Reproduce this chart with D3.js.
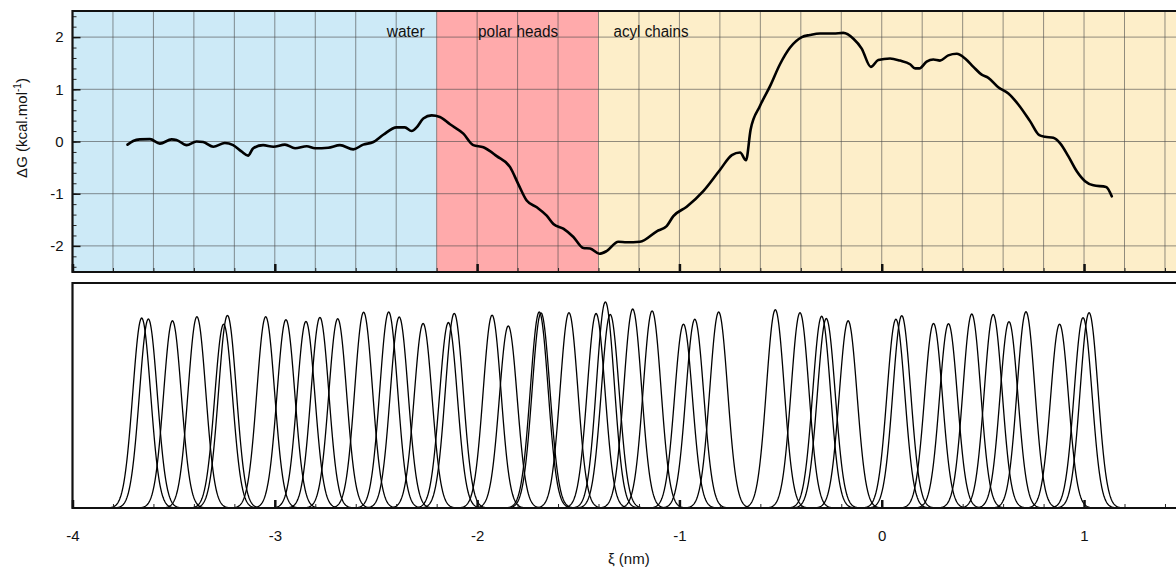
<!DOCTYPE html>
<html>
<head>
<meta charset="utf-8">
<script src="https://cdn.jsdelivr.net/npm/d3@7"></script>
<style>
  html, body { margin: 0; padding: 0; background: #fff; }
  svg { display: block; font-family: "Liberation Sans", Arial, Helvetica, sans-serif; }
</style>
</head>
<body>
<svg id="chart" width="1176" height="568"></svg>
<script>
// ---- data ----
const regionNames = ["water", "polar heads", "acyl chains"];
const regionStart = [-4.0, -2.2, -1.4];
const regionEnd = [-2.2, -1.4, 1.5];
const regionColors = ["#cdeaf7", "#ffaaab", "#fdeec9"];

const profileXi = [-3.728,-3.700,-3.667,-3.617,-3.568,-3.510,-3.486,-3.436,-3.387,-3.354,-3.304,-3.247,-3.206,-3.165,-3.132,-3.107,-3.058,-3.007,-2.950,-2.900,-2.842,-2.801,-2.736,-2.678,-2.612,-2.563,-2.513,-2.464,-2.398,-2.357,-2.324,-2.299,-2.266,-2.225,-2.184,-2.134,-2.068,-2.019,-1.969,-1.903,-1.837,-1.796,-1.755,-1.705,-1.656,-1.623,-1.574,-1.524,-1.475,-1.442,-1.396,-1.360,-1.302,-1.261,-1.195,-1.112,-1.063,-1.030,-0.964,-0.882,-0.799,-0.741,-0.700,-0.671,-0.648,-0.602,-0.552,-0.503,-0.453,-0.395,-0.355,-0.305,-0.239,-0.190,-0.140,-0.099,-0.054,-0.017,0.041,0.090,0.140,0.165,0.186,0.222,0.255,0.288,0.329,0.371,0.412,0.453,0.494,0.527,0.576,0.626,0.675,0.733,0.779,0.807,0.848,0.881,0.922,0.964,1.005,1.046,1.109,1.137];
const profileDG = [-0.06,0.01,0.04,0.045,-0.04,0.04,0.03,-0.07,0.00,-0.01,-0.10,-0.03,-0.07,-0.19,-0.27,-0.13,-0.07,-0.10,-0.06,-0.13,-0.09,-0.13,-0.12,-0.07,-0.15,-0.06,-0.01,0.13,0.27,0.27,0.20,0.27,0.44,0.50,0.47,0.33,0.15,-0.07,-0.11,-0.28,-0.49,-0.82,-1.13,-1.26,-1.42,-1.58,-1.67,-1.83,-2.04,-2.05,-2.15,-2.10,-1.92,-1.93,-1.92,-1.72,-1.62,-1.43,-1.25,-0.95,-0.54,-0.26,-0.21,-0.36,0.23,0.68,1.06,1.48,1.80,2.00,2.04,2.07,2.07,2.08,1.97,1.78,1.43,1.56,1.59,1.55,1.48,1.40,1.40,1.53,1.57,1.55,1.65,1.68,1.59,1.43,1.28,1.22,1.04,0.92,0.71,0.39,0.12,0.09,0.07,-0.03,-0.28,-0.57,-0.76,-0.84,-0.87,-1.05];

// umbrella-sampling windows: centre (nm), peak height (relative), width (nm)
const windowCentres = [-3.658,-3.625,-3.506,-3.385,-3.253,-3.234,-3.045,-2.945,-2.846,-2.777,-2.689,-2.561,-2.437,-2.385,-2.267,-2.142,-2.113,-1.926,-1.846,-1.693,-1.684,-1.546,-1.412,-1.366,-1.342,-1.231,-1.135,-0.980,-0.924,-0.806,-0.526,-0.404,-0.297,-0.274,-0.166,0.070,0.099,0.256,0.330,0.445,0.551,0.629,0.713,0.879,0.995,1.025];
const windowHeights = [0.844,0.840,0.832,0.850,0.817,0.856,0.850,0.837,0.829,0.847,0.841,0.870,0.871,0.849,0.820,0.824,0.865,0.857,0.809,0.871,0.867,0.868,0.864,0.916,0.860,0.884,0.876,0.817,0.839,0.871,0.881,0.868,0.852,0.842,0.832,0.839,0.855,0.820,0.819,0.862,0.860,0.828,0.872,0.817,0.846,0.868];
const windowSigma = 0.044;

const xTicksMajor = [-4, -3, -2, -1, 0, 1];
const yTicksMajor = [-2, -1, 0, 1, 2];
const fmtTick = d => String(d);

// ---- layout ----
const svg = d3.select("#chart");
const X0 = 72.5, X1 = 1185.2;
const x = d3.scaleLinear().domain([-4, 1.5]).range([X0, X1]);
const topTop = 11, topBot = 272;
const y = d3.scaleLinear().domain([-2.5, 2.5]).range([topBot, topTop]);
const botTop = 283, botBot = 508;
const yh = d3.scaleLinear().domain([0, 1]).range([botBot, botTop]);

const minorX = d3.range(-40, 16, 2).map(d => d / 10);
const minorY = d3.range(-24, 25, 2).map(d => d / 10);

// ---- top panel ----
const topG = svg.append("g");
topG.selectAll("rect.region").data(regionNames).join("rect")
  .attr("class", "region")
  .attr("x", (d, i) => x(regionStart[i]))
  .attr("width", (d, i) => x(regionEnd[i]) - x(regionStart[i]))
  .attr("y", topTop).attr("height", topBot - topTop)
  .attr("fill", (d, i) => regionColors[i]);

// grid
topG.append("g").selectAll("line").data(minorX.filter(d => d > -4)).join("line")
  .attr("x1", d => x(d)).attr("x2", d => x(d))
  .attr("y1", topTop).attr("y2", topBot)
  .attr("stroke", "#4a4a4a").attr("stroke-opacity", 0.6).attr("stroke-width", 1);
topG.append("g").selectAll("line").data(yTicksMajor).join("line")
  .attr("x1", X0).attr("x2", X1)
  .attr("y1", d => y(d)).attr("y2", d => y(d))
  .attr("stroke", "#4a4a4a").attr("stroke-opacity", 0.6).attr("stroke-width", 1);

// region labels
const labelX = [x(-2.2) - 12, x(-2.0) + 1, x(-1.4) + 15];
const labelAnchor = ["end", "start", "start"];
const labelLen = [38, 80, 75];
topG.selectAll("text.region").data(regionNames).join("text")
  .attr("class", "region")
  .attr("x", (d, i) => labelX[i]).attr("y", 37)
  .attr("text-anchor", (d, i) => labelAnchor[i])
  .attr("font-size", 16)
  .attr("textLength", (d, i) => labelLen[i])
  .attr("lengthAdjust", "spacingAndGlyphs")
  .attr("fill", "#111")
  .text(d => d);

// y axis ticks
topG.append("g").attr("transform", `translate(${X0},0)`)
  .call(d3.axisLeft(y).tickValues(minorY).tickSize(-4).tickFormat(""))
  .call(g => g.select(".domain").remove())
  .call(g => g.selectAll("line").attr("stroke", "#222"));
topG.append("g").attr("transform", `translate(${X0},0)`)
  .call(d3.axisLeft(y).tickValues(yTicksMajor).tickSize(-8).tickPadding(9).tickFormat(fmtTick))
  .call(g => g.select(".domain").remove())
  .call(g => g.selectAll("line").attr("stroke", "#111").attr("stroke-width", 1.5))
  .call(g => g.selectAll("text").attr("font-size", 15).attr("fill", "#111")
    .attr("font-family", "'Liberation Sans', Arial, sans-serif"));

// bottom ticks of top panel
topG.append("g").attr("transform", `translate(0,${topBot})`)
  .call(d3.axisTop(x).tickValues(minorX).tickSize(4).tickFormat(""))
  .call(g => g.select(".domain").remove())
  .call(g => g.selectAll("line").attr("stroke", "#222"));
topG.append("g").attr("transform", `translate(0,${topBot})`)
  .call(d3.axisTop(x).tickValues(xTicksMajor).tickSize(8).tickFormat(""))
  .call(g => g.select(".domain").remove())
  .call(g => g.selectAll("line").attr("stroke", "#111").attr("stroke-width", 2.5));

// profile line
const line = d3.line().x(d => x(d[0])).y(d => y(d[1])).curve(d3.curveMonotoneX);
topG.append("path")
  .datum(profileXi.map((v, i) => [v, profileDG[i]]))
  .attr("d", line)
  .attr("fill", "none").attr("stroke", "#000").attr("stroke-width", 2.6)
  .attr("stroke-linejoin", "round").attr("stroke-linecap", "round");

// frame
topG.append("path")
  .attr("d", `M${X1},${topTop}H${X0}V${topBot}H${X1}`)
  .attr("fill", "none").attr("stroke", "#111").attr("stroke-width", 2.2);

// y label
topG.append("text")
  .attr("transform", `translate(27,128) rotate(-90)`)
  .attr("text-anchor", "middle")
  .attr("font-size", 15).attr("fill", "#111")
  .call(t => {
    t.append("tspan").text("ΔG (kcal.mol");
    t.append("tspan").attr("dy", -6).attr("font-size", 10).text("-1");
    t.append("tspan").attr("dy", 6).text(")");
  });

// ---- bottom panel ----
const botG = svg.append("g");
const gLine = d3.line().x(d => x(d[0])).y(d => yh(d[1]));
const gaussians = windowCentres.map((c, i) => {
  const h = windowHeights[i];
  return d3.range(-5, 5.001, 0.05).map(k => [c + k * windowSigma, h * Math.exp(-0.5 * k * k)]);
});
botG.append("g").selectAll("path").data(gaussians).join("path")
  .attr("d", gLine)
  .attr("fill", "none").attr("stroke", "#000").attr("stroke-width", 1.3);

botG.append("g").attr("transform", `translate(0,${botBot})`)
  .call(d3.axisTop(x).tickValues(minorX).tickSize(4).tickFormat(""))
  .call(g => g.select(".domain").remove())
  .call(g => g.selectAll("line").attr("stroke", "#222"));
botG.append("g").attr("transform", `translate(0,${botBot})`)
  .call(d3.axisTop(x).tickValues(xTicksMajor).tickSize(8).tickFormat(""))
  .call(g => g.select(".domain").remove())
  .call(g => g.selectAll("line").attr("stroke", "#111").attr("stroke-width", 2.5));

botG.append("g").attr("transform", `translate(0,${botBot})`)
  .call(d3.axisBottom(x).tickValues(xTicksMajor).tickSize(0).tickPadding(22).tickFormat(fmtTick))
  .call(g => g.select(".domain").remove())
  .call(g => g.selectAll("text").attr("font-size", 15).attr("fill", "#111")
    .attr("font-family", "'Liberation Sans', Arial, sans-serif"));

botG.append("path")
  .attr("d", `M${X1},${botTop}H${X0}V${botBot}H${X1}`)
  .attr("fill", "none").attr("stroke", "#111").attr("stroke-width", 2.2);

botG.append("text")
  .attr("x", x(-1.25)).attr("y", 564)
  .attr("text-anchor", "middle")
  .attr("font-size", 15).attr("fill", "#111")
  .text("ξ (nm)");
</script>
</body>
</html>
